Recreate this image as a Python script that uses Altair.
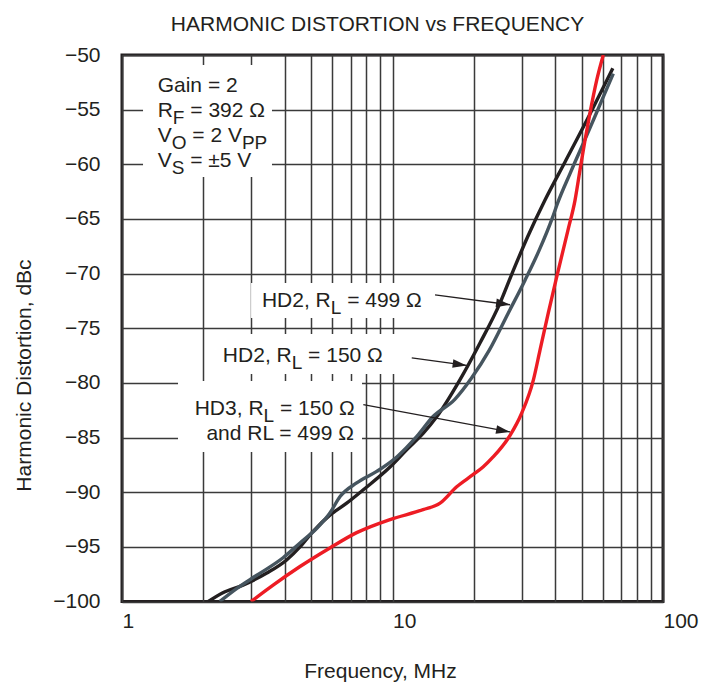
import math
import re
import altair as alt
import pandas as pd

# ---------------- data ----------------
freq_hd2_150 = [2.085, 2.36, 2.80, 3.43, 4.06, 4.55, 5.08, 5.87, 6.77, 7.78, 9.79, 11.3, 13.0,
                14.57, 17.77, 21.06, 24.97, 27.97, 31.69, 36.63, 43.43, 53.72, 65.2]
db_hd2_150 = [-100.0, -99.2, -98.5, -97.4, -96.2, -95.0, -93.6, -92.1, -91.0, -89.8, -87.7, -86.1, -84.6,
              -83.1, -79.7, -76.35, -72.7, -69.7, -66.56, -63.27, -59.79, -55.40, -51.22]

freq_hd2_499 = [2.30, 2.66, 3.15, 3.94, 4.55, 5.25, 5.87, 6.40, 7.37, 8.74, 10.4, 12.3, 14.1,
                17.0, 19.6, 22.8, 26.8, 30.9, 34.8, 39.0, 40.7, 45.4, 52.6, 59.5, 65.5]
db_hd2_499 = [-100.0, -98.8, -97.6, -96.0, -94.65, -93.3, -91.9, -90.4, -89.15, -88.1, -86.75, -84.9, -83.1,
              -81.5, -79.55, -77.0, -73.6, -70.6, -67.9, -64.9, -63.6, -60.8, -57.2, -54.1, -51.7]

freq_hd3 = [3.0, 3.62, 4.55, 5.87, 7.37, 9.79, 12.97, 14.99, 17.27, 19.84, 21.61, 23.5, 27.2,
            30.0, 33.2, 35.1, 37.67, 40.46, 44.56, 47.28, 49.35, 51.48, 53.72, 56.88, 60.16]
db_hd3 = [-100.0, -98.5, -96.8, -95.1, -93.7, -92.5, -91.6, -91.0, -89.5, -88.4, -87.7, -86.8, -84.8,
          -82.8, -79.7, -77.0, -73.6, -70.3, -66.0, -63.3, -60.5, -57.8, -55.3, -52.3, -50.0]

series_names = ["HD2 150", "HD2 499", "HD3"]
series_colors = ["#231f20", "#46555f", "#ed1c24"]

x_grid_values = [1, 2, 3, 4, 5, 6, 7, 8, 9, 10, 20, 30, 40, 50, 60, 70, 80, 90, 100]
x_label_values = [1, 10, 100]
y_values = [-100, -95, -90, -85, -80, -75, -70, -65, -60, -55, -50]

# annotation text (subscripts marked with _{...}) and anchors in data units
ann_text = ["Gain = 2", "R_{F} = 392 Ω", "V_{O} = 2 V_{PP}", "V_{S} = ±5 V",
            "HD2, R_{L} = 499 Ω", "HD2, R_{L} = 150 Ω", "HD3, R_{L} = 150 Ω", "and RL = 499 Ω"]
ann_f = [1.355, 1.355, 1.355, 1.355, 3.29, 2.36, 7.27, 7.27]
ann_db = [-53.35, -55.65, -58.0, -60.25, -73.06, -78.06, -82.94, -85.22]
ann_align = ["left", "left", "left", "left", "left", "left", "right", "right"]

# white label boxes (data units)
box_f1 = [1.196, 3.0, 2.207, 1.611]
box_f2 = [3.585, 14.5, 11.12, 7.715]
box_db1 = [-50.91, -70.86, -75.53, -79.83]
box_db2 = [-61.16, -74.06, -79.19, -86.32]

# arrows: start and tip (data units)
arr_f1 = [14.36, 11.78, 7.80]
arr_db1 = [-71.94, -77.72, -81.99]
arr_f2 = [27.2, 18.8, 27.2]
arr_db2 = [-72.85, -78.40, -84.49]

# ---------------- layout ----------------
W, H = 541, 546.5
FONT = "Liberation Sans"
INK = "#231f20"
FS = 21
FS_SUB = 19

xscale = alt.Scale(type="log", domain=[1, 100])
yscale = alt.Scale(domain=[-100, -50], nice=False, zero=False)

AW = {' ': 0.278, '=': 0.584, ',': 0.278, '±': 0.584, 'Ω': 0.768,
      'G': 0.778, 'a': 0.556, 'i': 0.222, 'n': 0.556, 'R': 0.722, 'F': 0.611,
      'V': 0.667, 'O': 0.778, 'P': 0.667, 'S': 0.667, 'H': 0.722, 'D': 0.722,
      'L': 0.556, 'd': 0.556}
for c in "0123456789":
    AW[c] = 0.556


def tw(s, size):
    return sum(AW.get(c, 0.556) for c in s) * size


def segments(s):
    out = []
    pos = 0
    for m in re.finditer(r"_\{([^}]*)\}", s):
        if m.start() > pos:
            out.append((s[pos:m.start()], False))
        out.append((m.group(1), True))
        pos = m.end()
    if pos < len(s):
        out.append((s[pos:], False))
    return out


X = lambda: alt.X("f:Q", scale=xscale)
Y = lambda: alt.Y("db:Q", scale=yscale)

lines_df = pd.concat([
    pd.DataFrame({"f": fr, "db": db, "s": name})
    for fr, db, name in zip([freq_hd2_150, freq_hd2_499, freq_hd3],
                            [db_hd2_150, db_hd2_499, db_hd3], series_names)
])

x_axis = alt.Axis(values=x_grid_values,
                  labelExpr="indexof([1,10,100], datum.value) >= 0 ? format(datum.value, 'd') : ''",
                  grid=True, ticks=False, domain=False, labelAlign="left",
                  labelPadding=9, labelFontSize=FS, labelFont=FONT, labelColor=INK,
                  title="Frequency, MHz", titleFontSize=FS, titleFont=FONT, titleFontWeight="normal",
                  titleColor=INK, titleX=258, titleY=76, titleBaseline="alphabetic", titleAlign="center")
y_axis = alt.Axis(values=y_values, grid=True, ticks=False, domain=False,
                  labelPadding=22, labelFontSize=FS, labelFont=FONT, labelColor=INK,
                  title="Harmonic Distortion, dBc", titleFontSize=FS, titleFont=FONT,
                  titleFontWeight="normal", titleColor=INK, titleX=-92, titleY=320,
                  titleBaseline="alphabetic", titleAlign="center", titleAngle=270)

boxes_df = pd.DataFrame({"f": box_f1, "f2": box_f2, "db": box_db1, "db2": box_db2})
boxes = alt.Chart(boxes_df).mark_rect(color="white").encode(
    x=alt.X("f:Q", scale=xscale, axis=x_axis),
    x2="f2:Q",
    y=alt.Y("db:Q", scale=yscale, axis=y_axis),
    y2="db2:Q",
)

curves = alt.Chart(lines_df).mark_line(strokeWidth=3.4, interpolate="monotone", clip=True).encode(
    x=X(), y=Y(),
    color=alt.Color("s:N", scale=alt.Scale(domain=series_names, range=series_colors), legend=None),
    detail="s:N",
)


def to_px(f, db):
    return W * math.log10(f) / 2.0, H * (-50 - db) / 50.0


arr_angle = []
for f1, d1, f2, d2 in zip(arr_f1, arr_db1, arr_f2, arr_db2):
    x1, y1 = to_px(f1, d1)
    x2, y2 = to_px(f2, d2)
    arr_angle.append((math.degrees(math.atan2(y2 - y1, x2 - x1)) + 360) % 360)

arr_df = pd.DataFrame({"f": arr_f1, "db": arr_db1, "f2": arr_f2, "db2": arr_db2, "ang": arr_angle})
arrow_lines = alt.Chart(arr_df).mark_rule(color=INK, strokeWidth=1.3).encode(
    x=X(), y=Y(), x2="f2:Q", y2="db2:Q")
arrow_heads = alt.Chart(arr_df).mark_point(
    shape="M0,0 L-2,-0.62 L-2,0.62 Z", filled=True, size=196, color=INK, opacity=1
).encode(
    x=alt.X("f2:Q", scale=xscale), y=alt.Y("db2:Q", scale=yscale),
    angle=alt.Angle("ang:Q", scale=None))

# text pieces: leading blanks become a shift (Vega trims text)
text_layers = []
for s, f, db, al in zip(ann_text, ann_f, ann_db, ann_align):
    segs = segments(s)
    widths = [tw(t, FS_SUB if sub else FS) for t, sub in segs]
    total = sum(widths)
    off = -total if al == "right" else 0.0
    for (t, sub), w in zip(segs, widths):
        size = FS_SUB if sub else FS
        stripped = t.lstrip(" ")
        lead = tw(t[:len(t) - len(stripped)], size)
        df = pd.DataFrame({"f": [f], "db": [db], "t": [stripped.rstrip(" ")]})
        text_layers.append(
            alt.Chart(df).mark_text(
                align="left", baseline="alphabetic", dx=off + lead, dy=7 if sub else 0,
                fontSize=size, font=FONT, color=INK
            ).encode(x=X(), y=Y(), text="t:N")
        )
        off += w

chart = alt.layer(boxes, curves, arrow_lines, arrow_heads, *text_layers).properties(
    width=W, height=H,
    title=alt.TitleParams(
        text="HARMONIC DISTORTION vs FREQUENCY", fontSize=FS, font=FONT, fontWeight="normal",
        color=INK, anchor="middle", frame="group", dx=-15, offset=9),
    autosize=alt.AutoSizeParams(type="none"),
    padding={"left": 122, "top": 55, "right": 43, "bottom": 82},
).configure_view(
    stroke=INK, strokeWidth=3
).configure_axis(
    gridColor="#3a3a3a", gridWidth=1.5, gridOpacity=1
)

chart.save("out.html", embed_options={"renderer": "svg", "actions": False})
